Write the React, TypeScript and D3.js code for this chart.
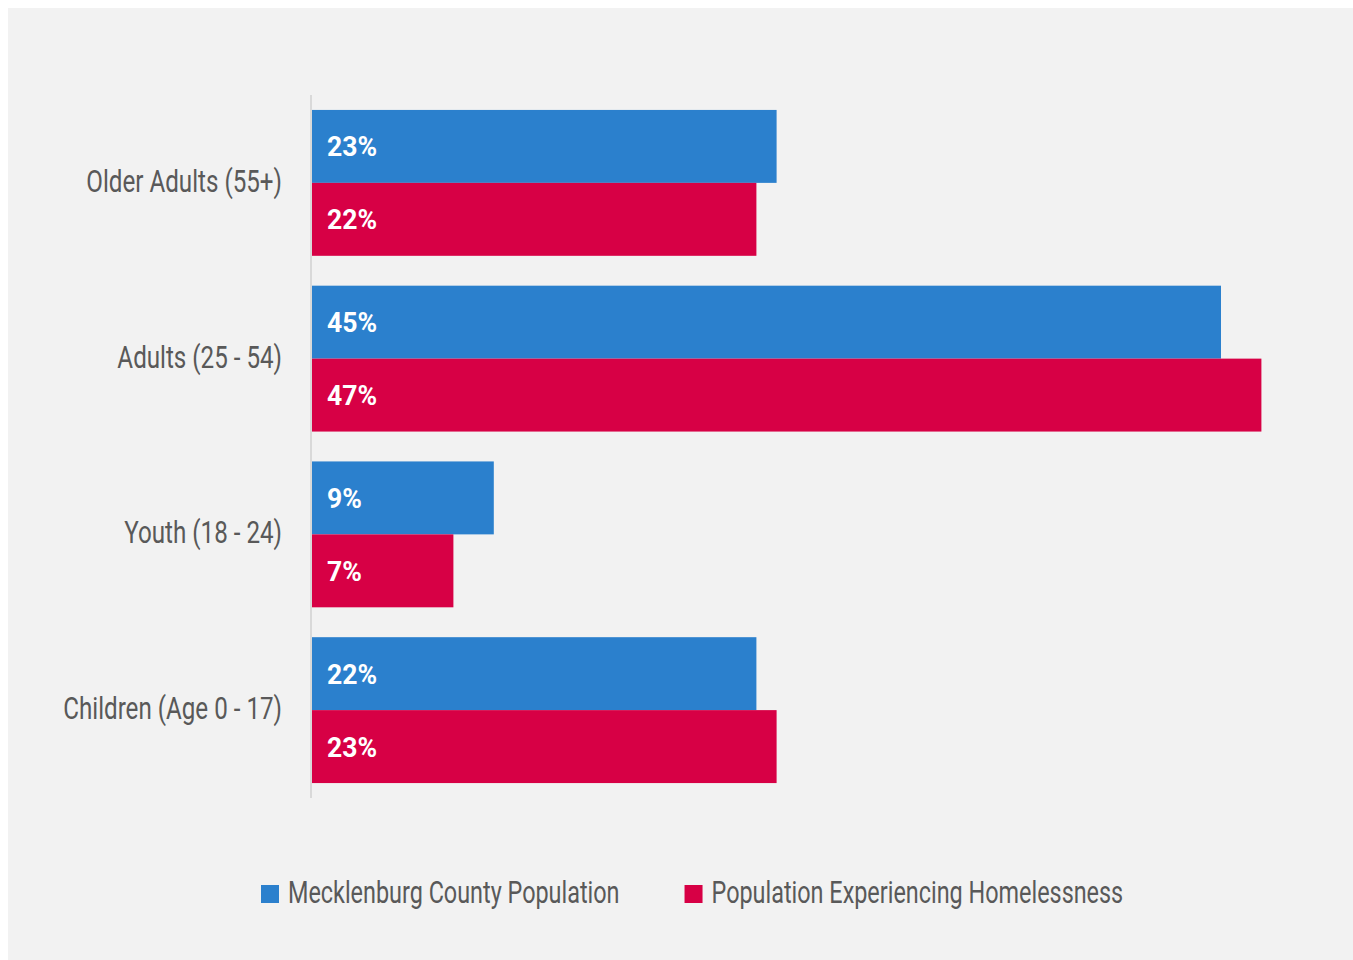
import React, { useEffect, useRef } from "react";
import * as d3 from "d3";

const categories = ["Older Adults (55+)", "Adults (25 - 54)", "Youth (18 - 24)", "Children (Age 0 - 17)"];
const seriesNames = ["Mecklenburg County Population", "Population Experiencing Homelessness"];
const countyValues = [23, 45, 9, 22];
const homelessValues = [22, 47, 7, 23];
const colors = ["#2b80cd", "#d70045"];

const W = 1345;
const H = 952;

export default function App() {
  const ref = useRef<SVGSVGElement | null>(null);

  useEffect(() => {
    document.body.style.overflow = "hidden";
    const svg = d3.select(ref.current);
    svg.selectAll("*").remove();
    svg.append("rect").attr("width", W).attr("height", H).attr("fill", "#f2f2f2");
    const g = svg.append("g").attr("transform", `translate(-8,-8)`);

    const y = d3.scaleBand<string>().domain(categories).range([95, 798]).paddingInner(0.17).paddingOuter(0.085);
    const x = d3.scaleLinear().domain([0, 50]).range([312, 1322]);
    const sub = d3.scaleBand<number>().domain([0, 1]).range([0, y.bandwidth()]);

    const series = [countyValues, homelessValues];
    const font = "Roboto, 'Open Sans', sans-serif";
    const sxLabel = 0.78;
    const sxBar = 0.95;
    const sxLeg = 0.755;

    categories.forEach((c, i) => {
      series.forEach((vals, s) => {
        const y0 = (y(c) as number) + (sub(s) as number);
        g.append("rect")
          .attr("x", x(0))
          .attr("y", y0)
          .attr("width", x(vals[i]) - x(0))
          .attr("height", sub.bandwidth())
          .attr("fill", colors[s]);
        g.append("text")
          .attr("transform", `translate(327,${y0 + sub.bandwidth() / 2 + 10}) scale(${sxBar},1)`)
          .attr("fill", "#ffffff")
          .attr("font-family", font)
          .attr("font-weight", 700)
          .attr("font-size", 28)
          .text(`${vals[i]}%`);
      });
      g.append("text")
        .attr("transform", `translate(282,${(y(c) as number) + y.bandwidth() / 2 + 9}) scale(${sxLabel},1)`)
        .attr("text-anchor", "end")
        .attr("fill", "#595959")
        .attr("font-family", font)
        .attr("font-weight", 400)
        .attr("font-size", 31)
        .text(c);
    });

    g.append("line")
      .attr("x1", 311).attr("x2", 311)
      .attr("y1", 95).attr("y2", 798)
      .attr("stroke", "#d9d9d9").attr("stroke-width", 2);

    let lx = 261;
    seriesNames.forEach((name, s) => {
      g.append("rect").attr("x", lx).attr("y", 885).attr("width", 18).attr("height", 18).attr("fill", colors[s]);
      const t = g.append("text")
        .attr("transform", `translate(${lx + 27},903) scale(${sxLeg},1)`)
        .attr("fill", "#595959")
        .attr("font-family", font)
        .attr("font-weight", 400)
        .attr("font-size", 31)
        .text(name);
      const w = (t.node() as SVGTextElement).getComputedTextLength() * sxLeg;
      lx = lx + 27 + w + 65;
    });
  }, []);

  return (
    <svg
      ref={ref}
      width={W}
      height={H}
      style={{ display: "block", position: "absolute", left: 8, top: 8, maxWidth: "none", width: W, height: H }}
    />
  );
}
